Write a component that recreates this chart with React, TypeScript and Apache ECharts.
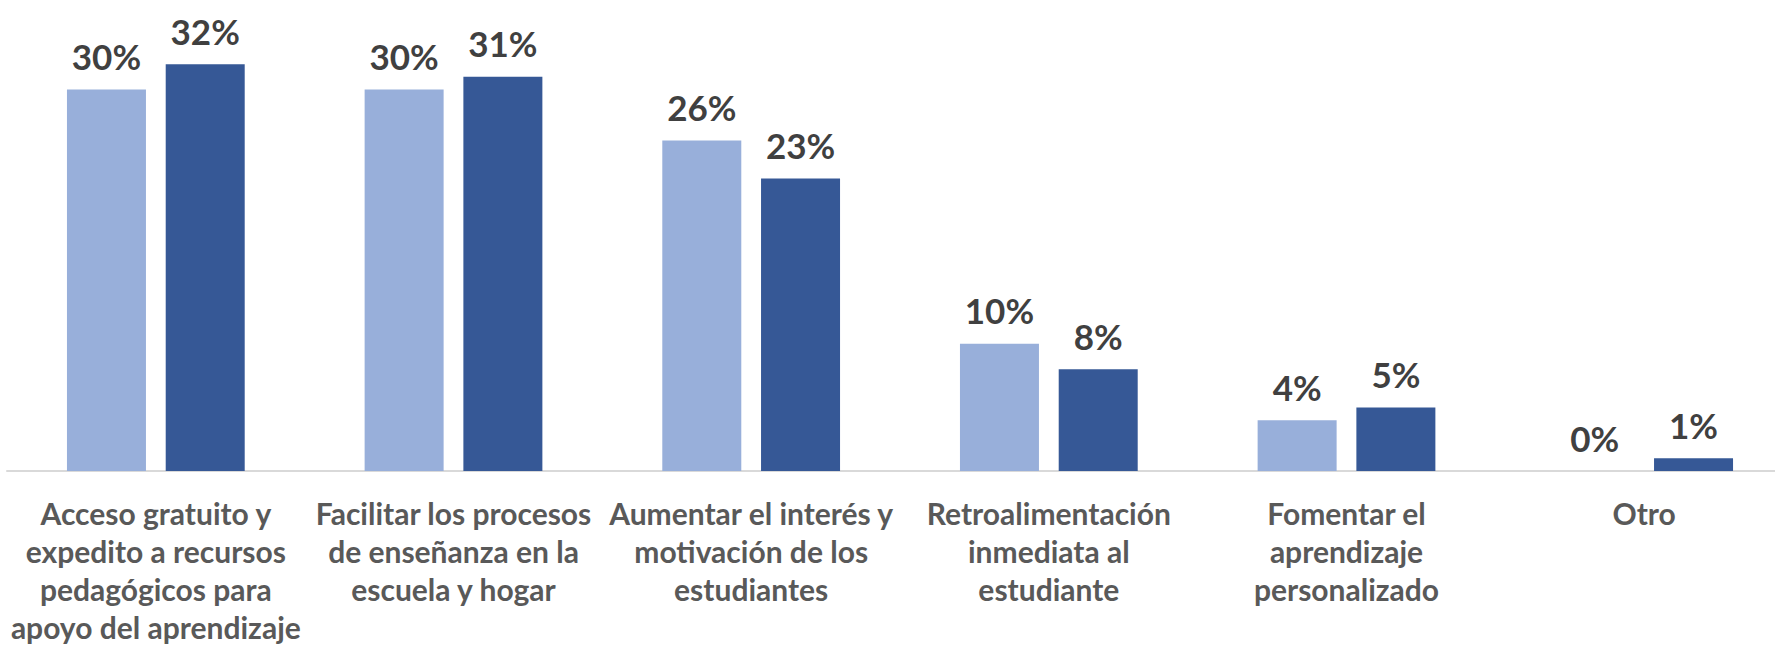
import React, { useEffect, useRef } from "react";
import * as echarts from "echarts";

const categories: string[] = [
  "Acceso gratuito y\nexpedito a recursos\npedagógicos para\napoyo del aprendizaje",
  "Facilitar los procesos\nde enseñanza en la\nescuela y hogar",
  "Aumentar el interés y\nmotivación de los\nestudiantes",
  "Retroalimentación\ninmediata al\nestudiante",
  "Fomentar el\naprendizaje\npersonalizado",
  "Otro",
];

const serieA: number[] = [30, 30, 26, 10, 4, 0];
const serieB: number[] = [32, 31, 23, 8, 5, 1];

const FONT = "Lato, 'Open Sans', sans-serif";

export default function App() {
  const ref = useRef<HTMLDivElement>(null);

  useEffect(() => {
    document.body.style.margin = "0";
    if (!ref.current) return;
    const chart = echarts.init(ref.current, undefined, { renderer: "svg" });
    const valueLabel = {
      show: true,
      position: "top" as const,
      distance: 16,
      formatter: (p: any) => `${Math.round(p.value)}%`,
      color: "#404040",
      fontFamily: FONT,
      fontWeight: "bold" as const,
      fontSize: 35,
    };
    chart.setOption({
      animation: false,
      backgroundColor: "#ffffff",
      grid: {
        left: 7,
        width: 1786,
        top: 26,
        height: 445,
        containLabel: false,
        outerBoundsMode: "none",
      },
      xAxis: {
        type: "category",
        data: categories,
        axisLine: { show: true, lineStyle: { color: "#d9d9d9", width: 2 } },
        axisTick: { show: false },
        axisLabel: {
          interval: 0,
          margin: 23,
          color: "#595959",
          fontFamily: FONT,
          fontWeight: "bold",
          fontSize: 30,
          lineHeight: 38,
        },
      },
      yAxis: {
        type: "value",
        min: 0,
        max: 35,
        show: false,
        splitLine: { show: false },
      },
      series: [
        {
          name: "Serie 1",
          type: "bar",
          data: serieA,
          barWidth: 79,
          barGap: "25%",
          itemStyle: { color: "#98afda" },
          label: valueLabel,
        },
        {
          name: "Serie 2",
          type: "bar",
          data: serieB,
          barWidth: 79,
          barGap: "25%",
          itemStyle: { color: "#365896" },
          label: valueLabel,
        },
      ],
    });
    return () => chart.dispose();
  }, []);

  return <div ref={ref} style={{ width: 1775, height: 647 }} />;
}
